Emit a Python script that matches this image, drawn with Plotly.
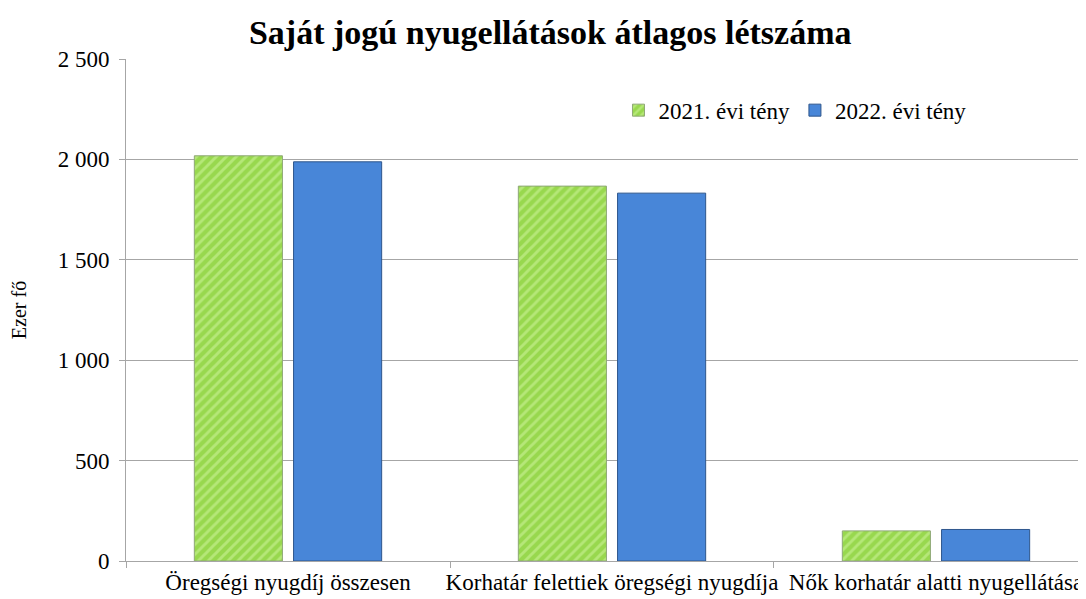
import plotly.graph_objects as go

categories = ["Öregségi nyugdíj összesen", "Korhatár felettiek öregségi nyugdíja", "Nők korhatár alatti nyugellátása"]
series_2021 = [2018, 1867, 150]
series_2022 = [1988, 1832, 157]
series_names = ["2021. évi tény", "2022. évi tény"]
tick_vals = [0, 500, 1000, 1500, 2000, 2500]
tick_text = ["0", "500", "1 000", "1 500", "2 000", "2 500"]

font_family = "Liberation Serif"

fig = go.Figure()
fig.add_trace(go.Bar(
    x=categories, y=series_2021, name=series_names[0],
    marker=dict(color="#98D84E",
                line=dict(color="#8FA877", width=1),
                pattern=dict(shape="/", fgcolor="#D2F5A2", bgcolor="#98D84E",
                             size=7, solidity=0.42, fillmode="overlay")),
))
fig.add_trace(go.Bar(
    x=categories, y=series_2022, name=series_names[1],
    marker=dict(color="#4886D8", line=dict(color="#2E568C", width=1)),
))

# page body has an 8px default margin, so the figure is 8px smaller
fig.update_layout(
    width=1078, height=591,
    paper_bgcolor="white", plot_bgcolor="white",
    margin=dict(l=118, r=0, t=51, b=38, autoexpand=False),
    font=dict(family=font_family, size=23, color="black"),
    title=dict(text="<b>Saját jogú nyugellátások átlagos létszáma</b>",
               x=0.503, xanchor="center", y=0.96, yanchor="middle",
               font=dict(size=34, family=font_family, color="black")),
    barmode="group", bargap=0.3875, bargroupgap=0.112,
    legend=dict(orientation="h", x=0.513, xanchor="left", y=0.898, yanchor="middle",
                bgcolor="rgba(0,0,0,0)", font=dict(size=23, family=font_family),
                traceorder="normal", itemwidth=30),
    showlegend=True,
)
fig.update_xaxes(
    type="category", range=[-0.5, 2.463], automargin=False,
    showline=True, linecolor="#A6A6A6", linewidth=1,
    showgrid=False, ticks="outside", tickson="boundaries", ticklen=6,
    tickcolor="#A6A6A6", tickangle=0,
    tickfont=dict(size=23, family=font_family), ticklabelstandoff=0,
)
fig.update_yaxes(
    range=[0, 2500], tickvals=tick_vals, ticktext=tick_text, automargin=False,
    showgrid=True, gridcolor="#A6A6A6", gridwidth=1,
    showline=True, linecolor="#A6A6A6", linewidth=1,
    ticks="outside", ticklen=6, tickcolor="#A6A6A6",
    zeroline=True, zerolinecolor="#A6A6A6", zerolinewidth=1,
    tickfont=dict(size=23, family=font_family), ticklabelstandoff=5,
    title=dict(text="Ezer fő", font=dict(size=20, family=font_family), standoff=25),
)

fig.write_html("out.html")
